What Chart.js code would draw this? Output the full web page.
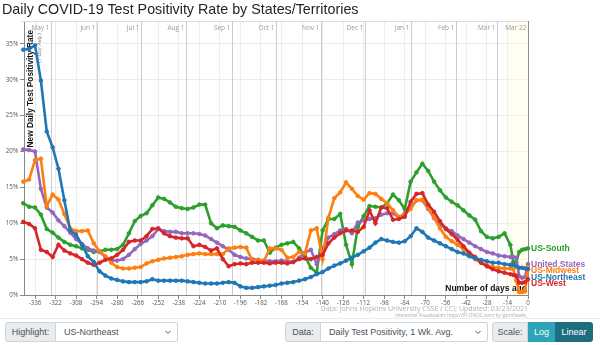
<!DOCTYPE html>
<html>
<head>
<meta charset="utf-8">
<script src="https://cdn.jsdelivr.net/npm/chart.js@4.4.1/dist/chart.umd.min.js"></script>
<style>
  body { margin: 0; width: 600px; height: 345px; overflow: hidden; background: #fff; position: relative;
         font-family: "Liberation Sans", Arial, sans-serif; }
  #title { position: absolute; left: 2px; top: 1px; font-size: 14.3px; line-height: 16px; color: #212529;
           white-space: nowrap; z-index: 2; }
  #chart { position: absolute; left: 0; top: 0; }
  .rule { position: absolute; left: 0; top: 318px; width: 600px; height: 1px; background: #ececec; }
  .grp { position: absolute; top: 322px; height: 20px; display: flex; font-size: 9px; color: #495057; }
  .lab { height: 20px; box-sizing: border-box; background: #e9ecef; border: 1px solid #ced4da;
         border-radius: 3px 0 0 3px; display: flex; align-items: center; justify-content: center; }
  .sel { height: 20px; box-sizing: border-box; background: #fff; border: 1px solid #ced4da; border-left: none;
         border-radius: 0 3px 3px 0; display: flex; align-items: center; padding-left: 8px; position: relative; }
  .sel svg { position: absolute; right: 6px; top: 7px; }
  .btn { height: 20px; box-sizing: border-box; display: flex; align-items: center; justify-content: center;
         color: #fff; font-size: 9px; }
</style>
</head>
<body>
<div id="title">Daily COVID-19 Test Positivity Rate by States/Territories</div>
<canvas id="chart" width="600" height="318"></canvas>
<div class="rule"></div>

<div class="grp" style="left:5px">
  <div class="lab" style="width:51px">Highlight:</div>
  <div class="sel" style="width:122px">US-Northeast
    <svg width="6" height="5" viewBox="0 0 6 5"><polyline points="0.5,1 3,3.5 5.5,1" fill="none" stroke="#555" stroke-width="1"/></svg>
  </div>
</div>
<div class="grp" style="left:285px">
  <div class="lab" style="width:36px">Data:</div>
  <div class="sel" style="width:167px">Daily Test Positivity, 1 Wk. Avg.
    <svg width="6" height="5" viewBox="0 0 6 5"><polyline points="0.5,1 3,3.5 5.5,1" fill="none" stroke="#555" stroke-width="1"/></svg>
  </div>
</div>
<div class="grp" style="left:492px">
  <div class="lab" style="width:36px">Scale:</div>
  <div class="btn" style="width:27px;background:#2ea2b7">Log</div>
  <div class="btn" style="width:38px;background:#1d6f7f;border-radius:0 3px 3px 0">Linear</div>
</div>

<script>
// days before the last report (Mar 22, 2021)
const days = [
  -344, -340, -336, -332, -328, -324, -320, -316, -312, -308,
  -304, -300, -296, -292, -288, -284, -280, -276, -272, -268,
  -264, -260, -256, -252, -248, -244, -240, -236, -232, -228,
  -224, -220, -216, -212, -208, -204, -200, -196, -192, -188,
  -184, -180, -176, -172, -168, -164, -160, -156, -152, -148,
  -144, -140, -136, -132, -128, -124, -120, -116, -112, -108,
  -104, -100, -96, -92, -88, -84, -80, -76, -72, -68,
  -64, -60, -56, -52, -48, -44, -40, -36, -32, -28,
  -24, -20, -16, -12, -10, -8, -6, -4, -2, 0
];

// 7-day average test positivity, percent
const usNortheast = [
  34.2, 34.3, 34.8, 29.9, 22.8, 20.6, 17.6, 13.2, 9.0, 8.4,
  7.0, 5.4, 4.6, 3.3, 2.7, 2.3, 2.1, 1.9, 1.8, 1.8,
  1.8, 1.9, 2.2, 2.0, 2.0, 2.0, 2.0, 2.0, 1.9, 1.8,
  1.7, 1.6, 1.6, 1.6, 1.7, 1.8, 1.7, 1.2, 1.0, 1.0,
  1.1, 1.2, 1.3, 1.4, 1.6, 1.7, 1.8, 2.0, 2.2, 2.5,
  2.9, 3.2, 3.7, 4.1, 4.4, 4.8, 5.2, 5.6, 6.1, 6.6,
  7.3, 7.8, 7.6, 7.4, 7.3, 7.5, 8.2, 9.3, 8.8, 8.0,
  7.6, 7.2, 6.8, 6.4, 6.0, 5.8, 5.4, 5.1, 4.9, 4.7,
  4.5, 4.5, 4.3, 4.2, 4.2, 4.0, 3.8, 3.8, 3.7, 3.6
];
const usWest = [
  10.2, 9.9, 9.3, 6.3, 6.0, 5.3, 7.0, 6.2, 5.8, 5.5,
  5.0, 4.5, 4.2, 4.5, 4.9, 5.1, 5.6, 6.3, 7.4, 7.6,
  7.6, 8.2, 9.2, 9.3, 8.6, 8.2, 8.0, 7.9, 7.9, 6.8,
  7.0, 6.7, 6.2, 6.5, 5.0, 4.0, 4.3, 4.4, 4.3, 4.5,
  4.5, 4.5, 4.4, 4.5, 4.5, 4.4, 4.6, 5.0, 5.1, 5.0,
  5.3, 5.6, 7.2, 8.0, 8.6, 9.0, 9.0, 8.8, 9.5, 11.8,
  10.0, 12.2, 12.1, 10.5, 10.6, 10.9, 13.0, 14.1, 14.2, 12.6,
  11.6, 10.3, 9.2, 8.5, 7.7, 6.8, 5.9, 5.3, 4.5, 4.0,
  3.6, 3.3, 3.1, 2.9, 2.8, 2.7, 1.7, 1.7, 1.8, 2.2
];
const usMidwest = [
  15.8, 16.1, 18.8, 19.0, 12.4, 14.0, 13.3, 11.3, 9.3, 8.9,
  8.9, 9.0, 7.2, 6.1, 5.4, 4.5, 3.9, 3.7, 3.7, 3.8,
  3.9, 4.4, 4.7, 4.9, 5.1, 5.2, 5.3, 5.4, 5.6, 5.7,
  5.8, 5.7, 5.7, 5.7, 5.7, 6.5, 6.6, 6.7, 6.6, 4.8,
  4.9, 4.7, 6.5, 6.5, 6.3, 5.2, 5.3, 6.0, 5.8, 9.0,
  9.3, 5.0, 10.8, 13.5, 14.3, 15.7, 14.8, 13.8, 13.3, 14.2,
  14.1, 13.4, 12.8, 11.8, 10.9, 11.2, 12.0, 13.2, 13.3, 12.2,
  10.8, 9.3, 8.1, 7.5, 7.0, 6.4, 5.7, 5.0, 4.5, 4.2,
  3.9, 3.8, 3.7, 3.7, 3.6, 2.0, 0.4, 0.4, 0.5, 3.9
];
const unitedStates = [
  20.3, 20.2, 20.0, 14.8, 12.2, 11.5, 10.4, 9.6, 8.7, 7.8,
  7.1, 6.5, 6.2, 6.0, 5.3, 4.8, 4.8, 5.0, 5.6, 6.4,
  7.1, 7.6, 8.2, 9.2, 8.9, 8.8, 8.8, 8.6, 8.6, 8.6,
  8.5, 8.3, 7.8, 7.3, 6.8, 6.3, 5.6, 5.3, 5.1, 5.0,
  4.9, 4.8, 4.7, 4.7, 4.8, 4.7, 4.6, 5.2, 5.9, 6.3,
  4.3, 6.5, 8.0, 8.5, 9.0, 9.2, 8.6, 10.1, 10.4, 10.6,
  10.7, 11.2, 11.4, 11.4, 10.8, 11.4, 12.2, 13.2, 13.2, 12.0,
  10.7, 9.9, 9.3, 8.9, 8.3, 7.8, 7.3, 6.8, 6.4, 6.0,
  5.8, 5.5, 5.4, 5.3, 5.3, 5.2, 2.6, 2.4, 2.5, 4.3
];
const usSouth = [
  12.8, 12.3, 12.2, 11.2, 9.2, 8.7, 8.0, 7.4, 7.0, 6.8,
  6.5, 6.3, 6.0, 6.1, 6.3, 6.3, 6.4, 7.0, 8.6, 10.3,
  11.0, 11.4, 12.5, 13.6, 13.4, 12.9, 12.3, 12.1, 12.0, 12.2,
  12.6, 12.6, 10.0, 9.3, 9.7, 9.6, 9.5, 9.0, 8.6, 8.1,
  7.6, 7.6, 5.9, 6.6, 7.0, 7.2, 7.4, 6.5, 5.4, 3.8,
  3.1, 9.0, 10.6, 10.6, 11.3, 7.0, 4.3, 9.5, 11.0, 12.4,
  12.3, 12.2, 12.8, 14.0, 13.2, 12.0, 15.8, 17.1, 18.3, 17.3,
  15.8, 14.6, 13.6, 13.0, 12.5, 11.8, 11.1, 10.5, 8.9, 8.1,
  7.9, 8.1, 8.6, 7.0, 4.6, 4.6, 6.0, 6.3, 6.4, 6.5
];

const xTicks = [-336, -322, -308, -294, -280, -266, -252, -238, -224, -210, -196, -182, -168,
                -154, -140, -126, -112, -98, -84, -70, -56, -42, -28, -14, 0];
const yTicks = [0, 5, 10, 15, 20, 25, 30, 35];
const monthDays = [-325, -294, -264, -233, -202, -172, -141, -111, -80, -49, -21, 0];
const monthLabels = ['May 1', 'Jun 1', 'Jul 1', 'Aug 1', 'Sep 1', 'Oct 1', 'Nov 1', 'Dec 1',
                     'Jan 1', 'Feb 1', 'Mar 1', 'Mar 22'];
const incompleteFrom = -14;

const series = [
  { label: 'US-Northeast', values: usNortheast, color: '#1f77b4' },
  { label: 'US-West', values: usWest, color: '#d62728' },
  { label: 'US-Midwest', values: usMidwest, color: '#ff7f0e' },
  { label: 'United States', values: unitedStates, color: '#9467bd' },
  { label: 'US-South', values: usSouth, color: '#2ca02c' }
];

const tickFont = { family: '"Open Sans", sans-serif', size: 6.2 };

const decorations = {
  id: 'decorations',
  beforeDatasetsDraw(chart) {
    const { ctx, chartArea: a, scales: { x } } = chart;
    ctx.save();

    // recent days still being reported
    const xs = x.getPixelForValue(incompleteFrom);
    ctx.fillStyle = 'rgba(255, 252, 220, 0.4)';
    ctx.fillRect(xs, a.top, a.right - xs, a.bottom - a.top);

    // top border of plot
    ctx.strokeStyle = '#dcdcdc';
    ctx.lineWidth = 1;
    ctx.beginPath();
    ctx.moveTo(a.left - 3, a.top + 0.5);
    ctx.lineTo(a.right, a.top + 0.5);
    ctx.stroke();

    // month markers
    ctx.font = '6.5px "Open Sans", sans-serif';
    ctx.textAlign = 'right';
    ctx.textBaseline = 'middle';
    monthDays.forEach((d, i) => {
      const px = Math.round(x.getPixelForValue(d)) + 0.5;
      ctx.strokeStyle = d === 0 ? '#8c8c8c' : '#cdcdcd';
      ctx.beginPath();
      ctx.moveTo(px, a.top);
      ctx.lineTo(px, a.bottom);
      ctx.stroke();
      ctx.fillStyle = '#9a9a9a';
      ctx.fillText(monthLabels[i], px - 2, a.top + 7);
    });

    // axis titles sit under the lines
    ctx.fillStyle = '#111';
    ctx.font = 'bold 8.5px "Liberation Sans", Arial, sans-serif';
    ctx.fillText('Number of days ago', a.right - 1, a.bottom - 6);

    ctx.save();
    ctx.translate(a.left + 7, a.top + 9);
    ctx.rotate(-Math.PI / 2);
    ctx.font = 'bold 8.3px "Liberation Sans", Arial, sans-serif';
    ctx.fillText('New Daily Test Positivity Rate', 0, 0);
    ctx.restore();

    ctx.save();
    ctx.translate(a.left + 15, a.top + 12);
    ctx.rotate(-Math.PI / 2);
    ctx.fillStyle = '#888';
    ctx.font = '5.5px "Liberation Sans", Arial, sans-serif';
    ctx.fillText('(7-day Avg.)', 0, 0);
    ctx.restore();

    // source note
    ctx.textAlign = 'right';
    ctx.fillStyle = '#b3b3b3';
    ctx.font = '7px "Open Sans", sans-serif';
    ctx.fillText('Data: Johns Hopkins University CSSE / CCI; Updated: 03/23/2021', a.right, 309);
    ctx.fillStyle = '#a8a8a8';
    ctx.font = '4.5px "Open Sans", sans-serif';
    ctx.fillText('Interactive Visualization: https://91-DIVOC.com/ by @profwade_', a.right, 315.5);

    ctx.restore();
  },
  afterDatasetsDraw(chart) {
    const { ctx, chartArea: a, scales: { y } } = chart;
    const items = chart.data.datasets.map(ds => ({
      text: ds.label,
      color: ds.borderColor,
      y: y.getPixelForValue(ds.data[ds.data.length - 1].y)
    }));
    items.sort((p, q) => p.y - q.y);
    for (let i = 1; i < items.length; i++) {
      if (items[i].y - items[i - 1].y < 6.5) items[i].y = items[i - 1].y + 6.5;
    }
    ctx.save();
    ctx.font = 'bold 8.5px "Liberation Sans", Arial, sans-serif';
    ctx.textAlign = 'left';
    ctx.textBaseline = 'middle';
    items.forEach(it => {
      ctx.fillStyle = it.color;
      ctx.fillText(it.text, a.right + 3, it.y);
    });
    ctx.restore();
  }
};

new Chart(document.getElementById('chart'), {
  type: 'line',
  data: {
    datasets: series.map((s, i) => ({
      label: s.label,
      data: days.map((d, j) => ({ x: d, y: s.values[j] })),
      borderColor: s.color,
      backgroundColor: s.color,
      pointBackgroundColor: s.color,
      pointBorderColor: s.color,
      borderWidth: 2.6,
      pointRadius: 1.8,
      pointBorderWidth: 1,
      tension: 0,
      order: i,
      clip: 6
    }))
  },
  options: {
    responsive: false,
    animation: false,
    layout: { padding: { top: 21, right: 72, left: 0, bottom: 0 } },
    plugins: { legend: { display: false }, tooltip: { enabled: false } },
    scales: {
      x: {
        type: 'linear',
        min: -343.5,
        max: 0,
        afterBuildTicks: s => { s.ticks = xTicks.map(v => ({ value: v })); },
        afterFit: s => { s.height = 23; },
        grid: { color: '#ececec', tickColor: '#888', tickLength: 4 },
        border: { color: '#888' },
        ticks: { font: tickFont, color: '#555', padding: 1, maxRotation: 0, autoSkip: false }
      },
      y: {
        min: 0,
        max: 38.2,
        afterBuildTicks: s => { s.ticks = yTicks.map(v => ({ value: v })); },
        afterFit: s => { s.width = 24; },
        grid: { color: '#ececec', tickColor: '#888', tickLength: 4 },
        border: { color: '#888' },
        ticks: { font: tickFont, color: '#555', padding: 2, callback: v => v + '%' }
      }
    }
  },
  plugins: [decorations]
});
</script>
</body>
</html>
